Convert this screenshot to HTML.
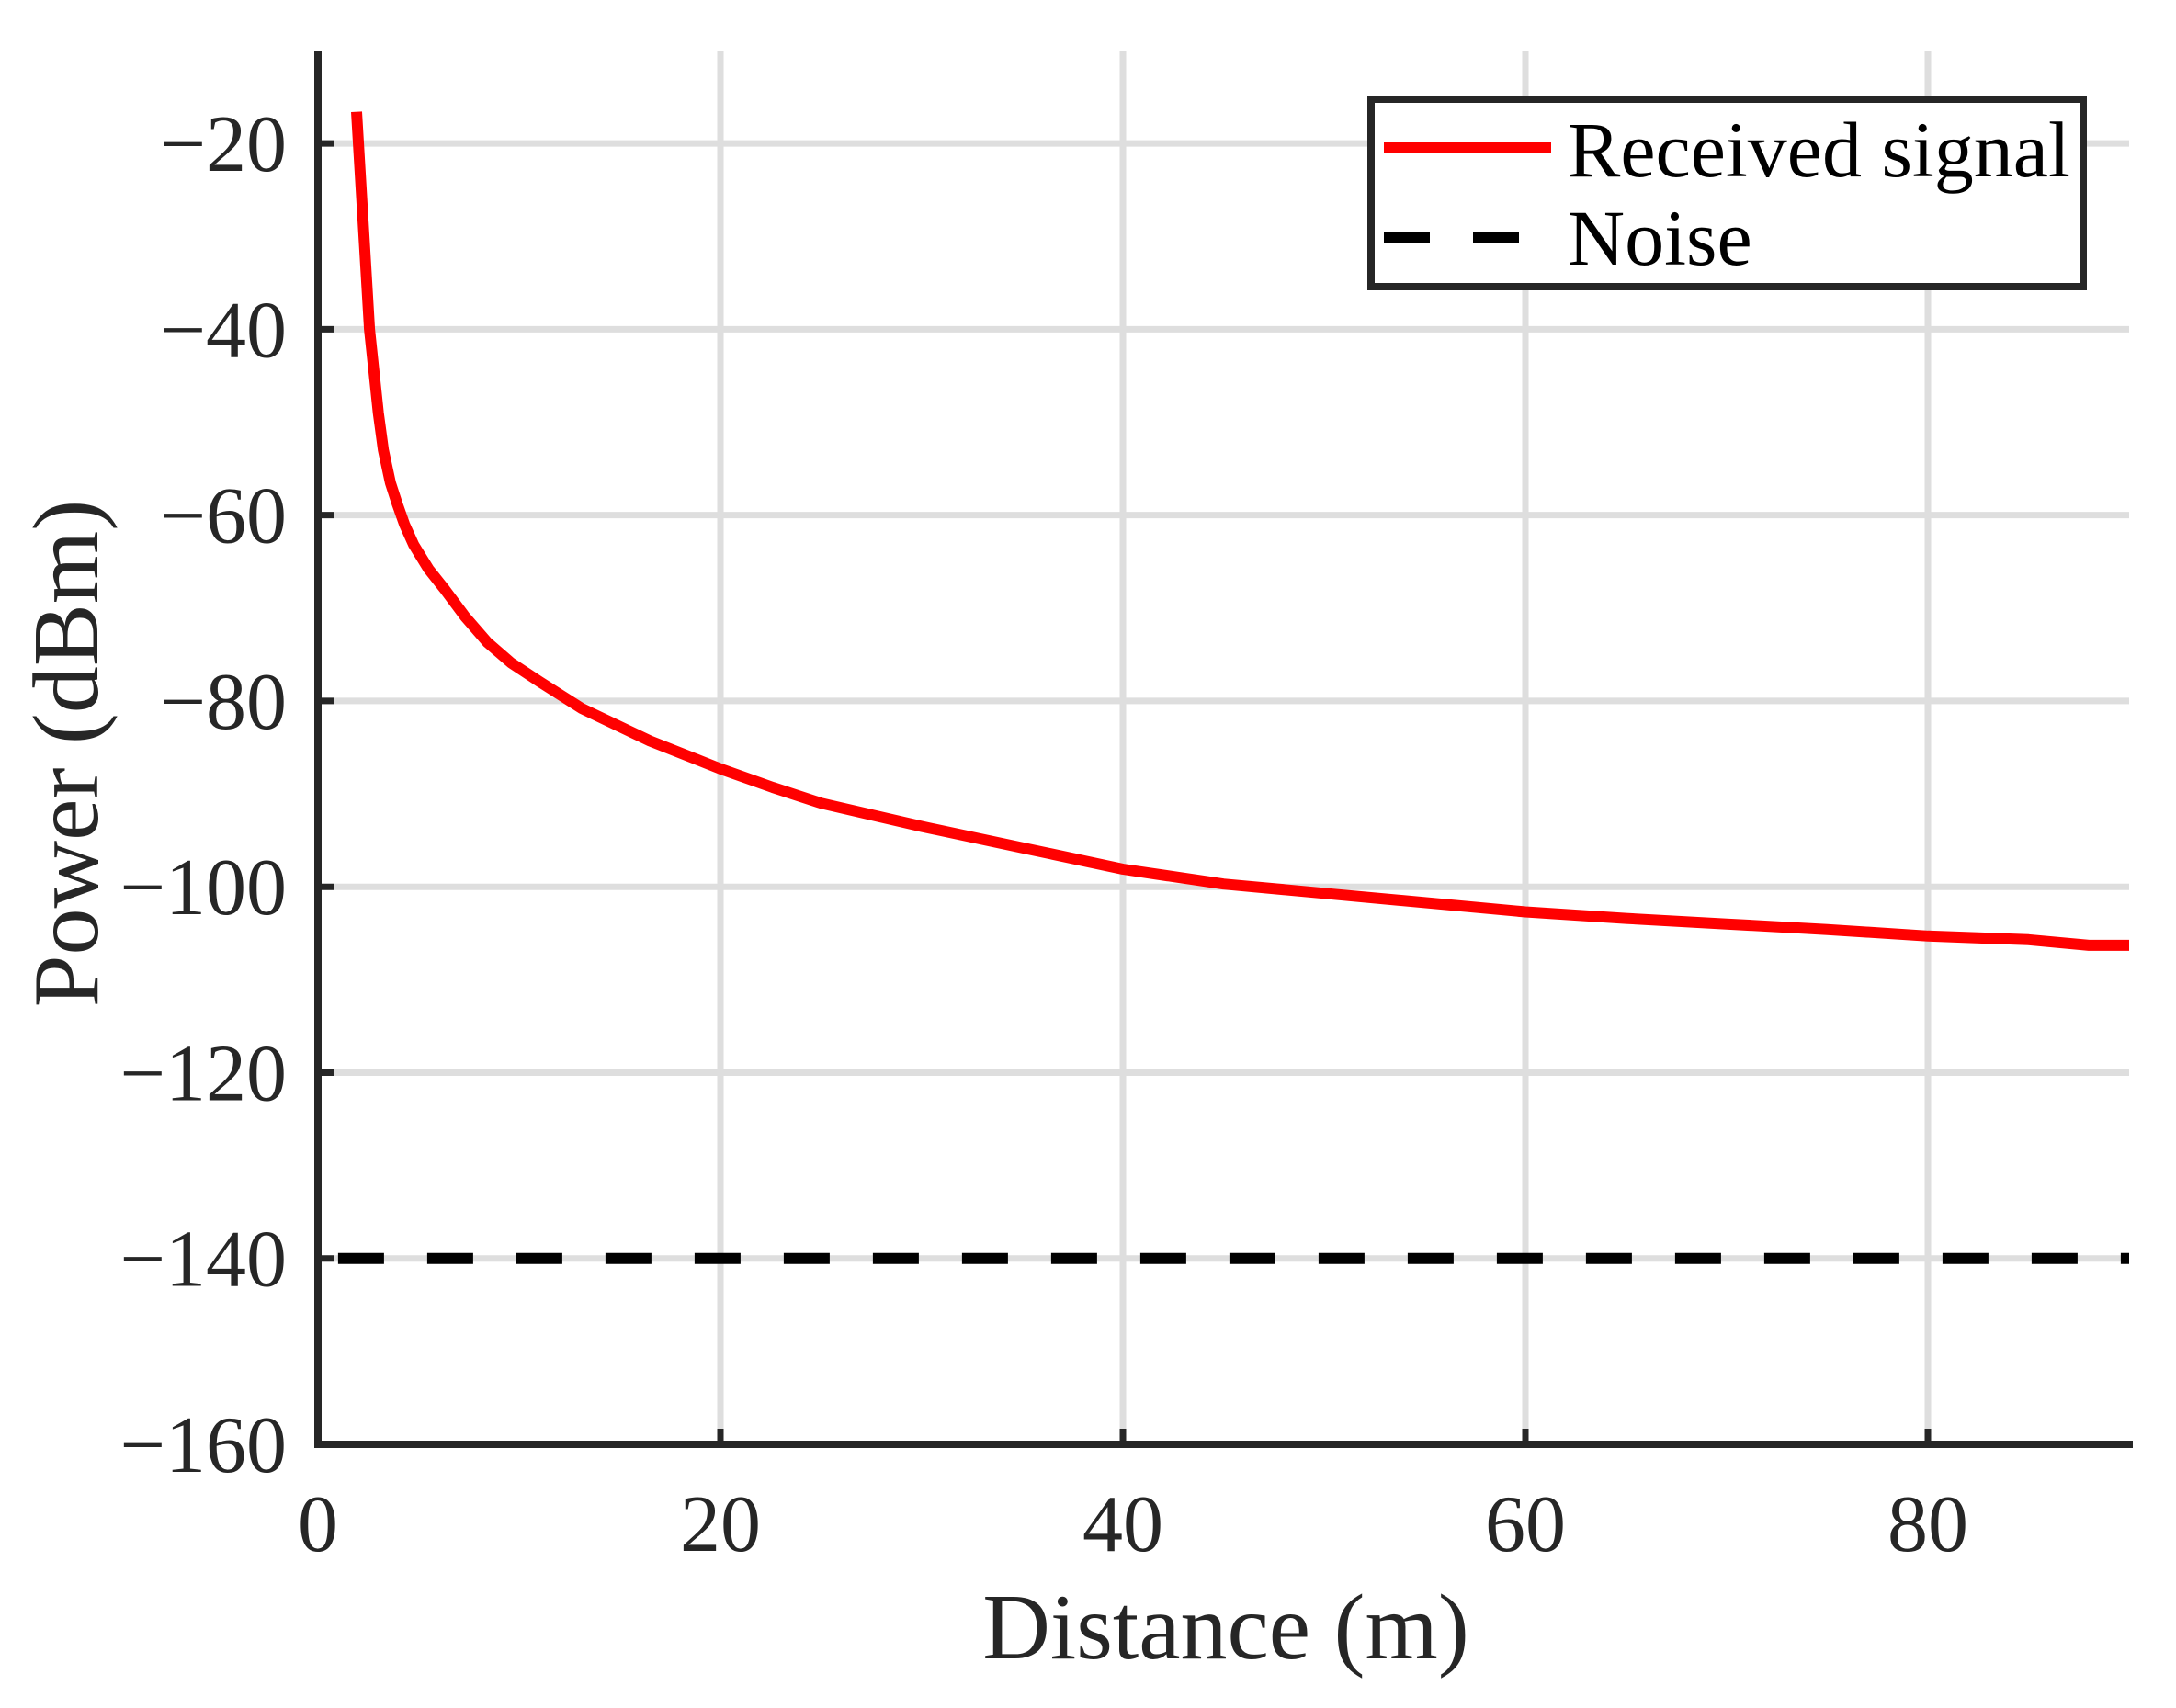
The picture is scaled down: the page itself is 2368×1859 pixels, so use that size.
<!DOCTYPE html>
<html><head><meta charset="utf-8"><style>
html,body{margin:0;padding:0;background:#fff}
svg{display:block}
text{font-family:"Liberation Serif",serif;fill:#262626}
</style></head><body>
<svg id="chart" width="2368" height="1859" viewBox="0 0 2368 1859" xmlns="http://www.w3.org/2000/svg">
<g id="grid"></g>
<g id="series"></g>
<g id="axes"></g>
<text x="1334" y="1805" font-size="102" text-anchor="middle">Distance (m)</text>
<text x="0" y="0" font-size="102" text-anchor="middle" transform="translate(106,820) rotate(-90)">Power (dBm)</text>
<g>
<rect x="1492" y="108" width="775" height="204" fill="#fff" stroke="#262626" stroke-width="8"/>
<line x1="1506" y1="161" x2="1688" y2="161" stroke="#ff0000" stroke-width="12"/>
<text x="1706" y="192" font-size="86" style="fill:#000">Received signal</text>
<line x1="1506" y1="259" x2="1656" y2="259" stroke="#000" stroke-width="12" stroke-dasharray="50 47"/>
<text x="1706" y="288" font-size="86" style="fill:#000">Noise</text>
</g>
</svg>
<script>
const distances = [1.92, 2.56, 3.0, 3.25, 3.6, 3.94, 4.3, 4.76, 5.5, 6.27, 7.3, 8.42, 9.6, 11, 13.1, 16.5, 20, 22.6, 25, 30, 35, 40, 45, 50, 55, 60, 65, 70, 75, 80, 85, 88, 90];
const receivedPower = [-16.6, -40, -49, -53, -56.5, -58.8, -61, -63.2, -65.8, -67.9, -70.9, -73.7, -75.9, -77.9, -80.8, -84.3, -87.3, -89.3, -91, -93.5, -95.8, -98.1, -99.7, -100.7, -101.7, -102.7, -103.4, -104.0, -104.6, -105.3, -105.7, -106.3, -106.3];
const noiseX = [1, 90];
const noiseLevel = -140;
const xTicks = [0, 20, 40, 60, 80];
const yTicks = [-160, -140, -120, -100, -80, -60, -40, -20];
const xDomain = [0, 90], yDomain = [-160, -10];
const L = 346, R = 2317, T = 55, B = 1572;
const sx = v => L + (v - xDomain[0]) / (xDomain[1] - xDomain[0]) * (R - L);
const sy = v => B - (v - yDomain[0]) / (yDomain[1] - yDomain[0]) * (B - T);
const NS = 'http://www.w3.org/2000/svg';
function mk(tag, attrs, parent) {
  const e = document.createElementNS(NS, tag);
  for (const k in attrs) e.setAttribute(k, attrs[k]);
  parent.appendChild(e);
  return e;
}
const grid = document.getElementById('grid');
const axes = document.getElementById('axes');
const series = document.getElementById('series');
xTicks.forEach(t => {
  if (t !== 0) {
    const g = mk('line', {x1: sx(t), x2: sx(t), y1: T, y2: B, stroke: '#dedede', 'stroke-width': 7}, grid);
    
    
    const tk = mk('line', {x1: sx(t), x2: sx(t), y1: B, y2: B - 17, stroke: '#262626', 'stroke-width': 7}, axes);
    
    
  }
  const lb = mk('text', {x: sx(t), y: 1688, 'font-size': 88, 'text-anchor': 'middle'}, axes);
  lb.textContent = String(t);
  
  
});
yTicks.forEach(t => {
  if (t !== yDomain[0]) {
    const g = mk('line', {x1: L, x2: R, y1: sy(t), y2: sy(t), stroke: '#dedede', 'stroke-width': 7}, grid);
    
    
    const tk = mk('line', {x1: L, x2: L + 17, y1: sy(t), y2: sy(t), stroke: '#262626', 'stroke-width': 7}, axes);
    
    
  }
  const lb = mk('text', {x: 312, y: sy(t) + 30, 'font-size': 88, 'text-anchor': 'end'}, axes);
  lb.textContent = '\u2212' + Math.abs(t);
  
  
});
const ax = mk('path', {d: `M${L},${T} L${L},${B} L${R + 4},${B}`, fill: 'none', stroke: '#262626', 'stroke-width': 8}, axes);


const nl = mk('line', {x1: sx(noiseX[0]), x2: sx(noiseX[1]), y1: sy(noiseLevel), y2: sy(noiseLevel), stroke: '#000', 'stroke-width': 12, 'stroke-dasharray': '50 47'}, series);


const d = distances.map((x, i) => (i ? 'L' : 'M') + sx(x).toFixed(1) + ',' + sy(receivedPower[i]).toFixed(1)).join(' ');
const rl = mk('path', {d: d, fill: 'none', stroke: '#ff0000', 'stroke-width': 12, 'stroke-linejoin': 'round'}, series);


</script>
</body></html>
